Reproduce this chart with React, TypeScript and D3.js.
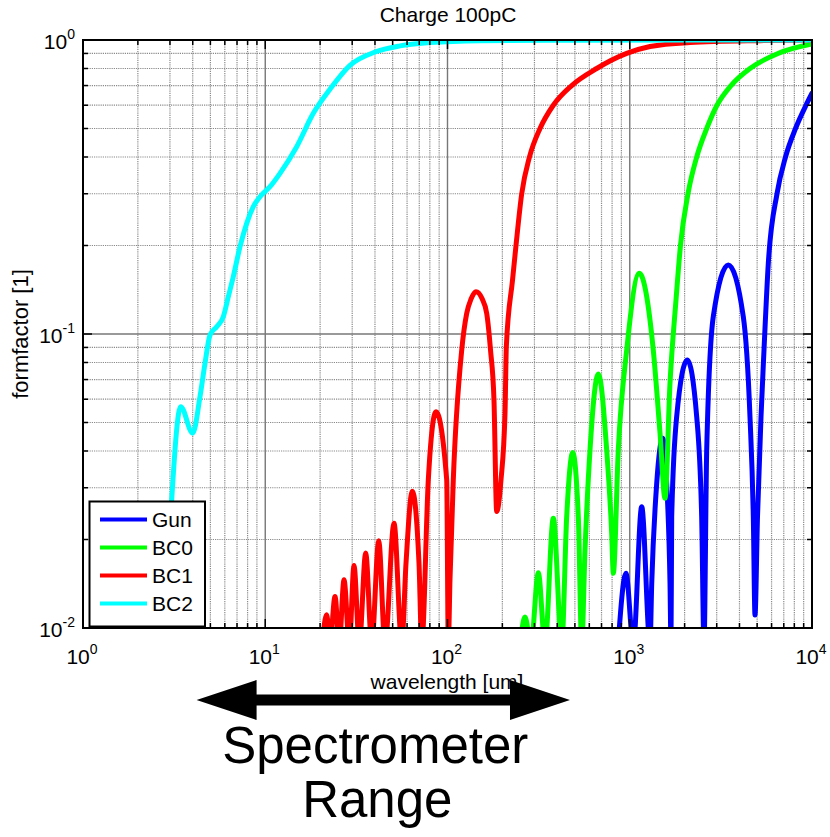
import React from 'react';
import * as d3 from 'd3';

// ---------- data ----------
const title = 'Charge 100pC';
const xLabel = 'wavelength [um]';
const yLabel = 'formfactor [1]';
const seriesNames = ['Gun', 'BC0', 'BC1', 'BC2'];
const seriesColors = ['#0000ff', '#00ff00', '#ff0000', '#00ffff'];

const xTickExponents = [0, 1, 2, 3, 4];
const yTickExponents = [0, -1, -2];

// Gun (blue)
const gunWavelength = [860, 953.6, 1046, 1163, 1292, 1320, 1406, 1516, 1595, 1663, 1684, 1699, 1809, 2069, 2330, 2481, 2555, 2644, 2873, 3473, 4198, 4568, 4764, 4867, 5023, 5251, 5453, 5758, 6427, 7155, 8120, 9271, 10000];
const gunFormfactor = [0.0085, 0.01535, 0.0088, 0.02585, 0.0088, 0.01419, 0.03107, 0.04417, 0.03107, 0.01419, 0.0088, 0.0239, 0.0523, 0.0816, 0.0523, 0.0239, 0.0088, 0.0403, 0.1145, 0.1717, 0.1145, 0.0523, 0.0239, 0.01107, 0.0239, 0.0523, 0.0882, 0.1739, 0.3, 0.4, 0.5, 0.6, 0.659];

// BC0 (green)
const bc0Wavelength = [245, 266.2, 287.2, 315.0, 342.8, 380.7, 423.4, 450.8, 486.4, 522.2, 545.0, 568.2, 605.2, 672.2, 747.2, 796.0, 812.3, 865.2, 962.3, 1128, 1346, 1466, 1561, 1663, 1794, 1898, 2087, 2330, 2644, 3011, 3594, 4568, 6509, 10000];
const bc0Formfactor = [0.0075, 0.0109, 0.0088, 0.0154, 0.0088, 0.0236, 0.0088, 0.0239, 0.0395, 0.0239, 0.0088, 0.0184, 0.0403, 0.0731, 0.0403, 0.021, 0.01535, 0.0403, 0.0882, 0.1609, 0.0882, 0.046, 0.0276, 0.068, 0.1305, 0.2, 0.3, 0.4, 0.5, 0.6, 0.7, 0.8, 0.9, 0.969];

// BC1 (red)
const bc1Wavelength = [20.0, 21.74, 22.66, 24.14, 25.48, 27.05, 28.93, 30.69, 32.82, 35.58, 38.38, 41.94, 45.41, 50.87, 56.09, 59.2, 64.11, 69.77, 72.2, 78.47, 86.48, 99.0, 101.0, 103.2, 107.6, 119.7, 127.5, 134.6, 143.3, 154.7, 164.1, 172.2, 179.9, 186.2, 196.6, 206.8, 210.3, 227.4, 237.6, 255.4, 281.8, 321.8, 380.6, 480.2, 658.6, 962.3, 1292, 2141, 5184, 10000];
const bc1Formfactor = [0.007, 0.0111, 0.0088, 0.0128, 0.0088, 0.0146, 0.0088, 0.0163, 0.0088, 0.018, 0.0088, 0.0198, 0.0088, 0.0227, 0.0088, 0.0166, 0.0292, 0.0166, 0.0088, 0.0319, 0.0544, 0.0319, 0.0088, 0.0146, 0.0319, 0.0882, 0.1176, 0.1315, 0.1393, 0.132, 0.1176, 0.0882, 0.0596, 0.0249, 0.0319, 0.0537, 0.0905, 0.1527, 0.2, 0.3, 0.4, 0.5, 0.6, 0.7, 0.8, 0.9, 0.95, 0.98, 0.995, 1.0];

// BC2 (cyan)
const bc2Wavelength = [1.4, 1.517, 1.586, 1.658, 1.733, 1.811, 1.893, 1.979, 2.068, 2.161, 2.259, 2.361, 2.484, 2.75, 3.078, 3.436, 3.999, 4.385, 4.671, 4.977, 5.416, 5.886, 6.271, 6.678, 7.27, 7.911, 8.6, 9.359, 10.62, 12.05, 14.88, 18.35, 22.66, 29.17, 40.02, 54.88, 80.17, 150, 500, 10000];
const bc2Formfactor = [0.008, 0.0103, 0.009, 0.0103, 0.009, 0.0103, 0.009, 0.0103, 0.009, 0.0103, 0.009, 0.0102, 0.008, 0.006, 0.0283, 0.0566, 0.046, 0.0612, 0.0795, 0.0992, 0.1059, 0.1145, 0.1339, 0.1566, 0.1981, 0.2379, 0.271, 0.2931, 0.317, 0.352, 0.4335, 0.563, 0.68, 0.82, 0.91, 0.955, 0.98, 0.995, 0.999, 1.0];

// spectrometer range annotation [um]
const spectrometerRange = [4.2, 470];
const annotationLines = ['Spectrometer', 'Range'];

// ---------- layout ----------
const W = 830;
const H = 837;
const plot = { left: 83, right: 812, top: 40, bottom: 628 };
const FONT = 'Liberation Sans, Arial, Helvetica, sans-serif';

export default function App() {
  const x = d3.scaleLog().domain([1, 1e4]).range([plot.left, plot.right]);
  const y = d3.scaleLog().domain([0.01, 1]).range([plot.bottom, plot.top]);

  const series = [
    { name: seriesNames[0], color: seriesColors[0], w: gunWavelength, v: gunFormfactor },
    { name: seriesNames[1], color: seriesColors[1], w: bc0Wavelength, v: bc0Formfactor },
    { name: seriesNames[2], color: seriesColors[2], w: bc1Wavelength, v: bc1Formfactor },
    { name: seriesNames[3], color: seriesColors[3], w: bc2Wavelength, v: bc2Formfactor },
  ];

  const line = d3
    .line<[number, number]>()
    .x((d) => x(d[0]))
    .y((d) => y(d[1]))
    .curve(d3.curveMonotoneX);

  // grid / tick values
  const xVals: { v: number; major: boolean }[] = [];
  for (let k = 0; k < 4; k++) for (let m = 1; m <= 9; m++) xVals.push({ v: m * Math.pow(10, k), major: m === 1 });
  xVals.push({ v: 1e4, major: true });
  const yVals: { v: number; major: boolean }[] = [];
  for (let k = -2; k < 0; k++) for (let m = 1; m <= 9; m++) yVals.push({ v: m * Math.pow(10, k), major: m === 1 });
  yVals.push({ v: 1, major: true });

  const innerX = xVals.filter((d) => d.v > 1 && d.v < 1e4);
  const innerY = yVals.filter((d) => d.v > 0.01 && d.v < 1);

  // arrow
  const ax0 = x(spectrometerRange[0]);
  const ax1 = x(spectrometerRange[1]);
  const ay = 700;
  const headL = 60;
  const headH = 20;
  const shaftH = 5.5;
  const arrowPts = [
    [ax0, ay],
    [ax0 + headL, ay - headH],
    [ax0 + headL, ay - shaftH],
    [ax1 - headL, ay - shaftH],
    [ax1 - headL, ay - headH],
    [ax1, ay],
    [ax1 - headL, ay + headH],
    [ax1 - headL, ay + shaftH],
    [ax0 + headL, ay + shaftH],
    [ax0 + headL, ay + headH],
  ];
  const textCx = (ax0 + ax1) / 2 - 8;

  const legend = { x: 89.5, y: 501.5, w: 115.5, h: 125, row0: 519.5, rowH: 28 };

  const gridStroke = (major: boolean) => ({
    stroke: major ? '#777' : '#8a8a8a',
    strokeWidth: major ? 1.4 : 1.2,
    strokeDasharray: major ? undefined : '1.2,1',
  });

  return (
    <svg
      width={W}
      height={H}
      viewBox={`0 0 ${W} ${H}`}
      style={{ position: 'absolute', left: 0, top: 0, background: '#fff' }}
      fontFamily={FONT}
    >
      <defs>
        <clipPath id="plotClip">
          <rect x={plot.left} y={plot.top} width={plot.right - plot.left} height={plot.bottom - plot.top} />
        </clipPath>
      </defs>
      <rect x={0} y={0} width={W} height={H} fill="#fff" />

      {/* grid */}
      <g>
        {innerX.map((d, i) => (
          <line key={'gx' + i} x1={x(d.v)} x2={x(d.v)} y1={plot.top} y2={plot.bottom} {...gridStroke(d.major)} />
        ))}
        {innerY.map((d, i) => (
          <line key={'gy' + i} y1={y(d.v)} y2={y(d.v)} x1={plot.left} x2={plot.right} {...gridStroke(d.major)} />
        ))}
      </g>

      {/* curves */}
      <g clipPath="url(#plotClip)">
        {series.map((s) => (
          <path
            key={s.name}
            d={line(s.w.map((w, i) => [w, s.v[i]] as [number, number])) || ''}
            fill="none"
            stroke={s.color}
            strokeWidth={5}
            strokeLinejoin="round"
            strokeLinecap="round"
          />
        ))}
      </g>

      {/* ticks */}
      <g stroke="#000" strokeWidth={1.5}>
        {xVals.map((d, i) => {
          const L = d.major ? 9 : 5;
          const px = x(d.v);
          return (
            <g key={'tx' + i}>
              <line x1={px} x2={px} y1={plot.bottom} y2={plot.bottom - L} />
              <line x1={px} x2={px} y1={plot.top} y2={plot.top + L} />
            </g>
          );
        })}
        {yVals.map((d, i) => {
          const L = d.major ? 9 : 5;
          const py = y(d.v);
          return (
            <g key={'ty' + i}>
              <line x1={plot.left} x2={plot.left + L} y1={py} y2={py} />
              <line x1={plot.right} x2={plot.right - L} y1={py} y2={py} />
            </g>
          );
        })}
      </g>

      {/* frame */}
      <rect
        x={plot.left}
        y={plot.top}
        width={plot.right - plot.left}
        height={plot.bottom - plot.top}
        fill="none"
        stroke="#000"
        strokeWidth={2}
      />

      {/* tick labels */}
      {xTickExponents.map((e) => (
        <text key={'xl' + e} x={x(Math.pow(10, e)) - 1} y={664} textAnchor="middle" fontSize={21} fill="#000">
          10
          <tspan dy={-10} fontSize={14}>
            {e}
          </tspan>
        </text>
      ))}
      {yTickExponents.map((e) => (
        <text key={'yl' + e} x={75} y={y(Math.pow(10, e)) + 9} textAnchor="end" fontSize={21} fill="#000">
          10
          <tspan dy={-10} fontSize={14}>
            {e}
          </tspan>
        </text>
      ))}

      {/* title & axis labels */}
      <text x={448} y={22} textAnchor="middle" fontSize={21} fill="#000">
        {title}
      </text>
      <text x={447} y={689} textAnchor="middle" fontSize={21} fill="#000">
        {xLabel}
      </text>
      <text
        transform={`translate(28, ${(plot.top + plot.bottom) / 2}) rotate(-90)`}
        textAnchor="middle"
        fontSize={22}
        fill="#000"
      >
        {yLabel}
      </text>

      {/* legend */}
      <g>
        <rect x={legend.x} y={legend.y} width={legend.w} height={legend.h} fill="#fff" stroke="#000" strokeWidth={2} />
        {series.map((s, i) => {
          const ry = legend.row0 + i * legend.rowH;
          return (
            <g key={'lg' + i}>
              <line x1={100} x2={147} y1={ry} y2={ry} stroke={s.color} strokeWidth={4} />
              <text x={152} y={ry + 7.5} fontSize={21} fill="#000">
                {s.name}
              </text>
            </g>
          );
        })}
      </g>

      {/* spectrometer range annotation */}
      <polygon points={arrowPts.map((p) => p.join(',')).join(' ')} fill="#000" />
      <text x={textCx} y={763} textAnchor="middle" fontSize={51} fill="#000">
        {annotationLines[0]}
      </text>
      <text x={textCx + 2} y={817} textAnchor="middle" fontSize={51} fill="#000">
        {annotationLines[1]}
      </text>
    </svg>
  );
}
